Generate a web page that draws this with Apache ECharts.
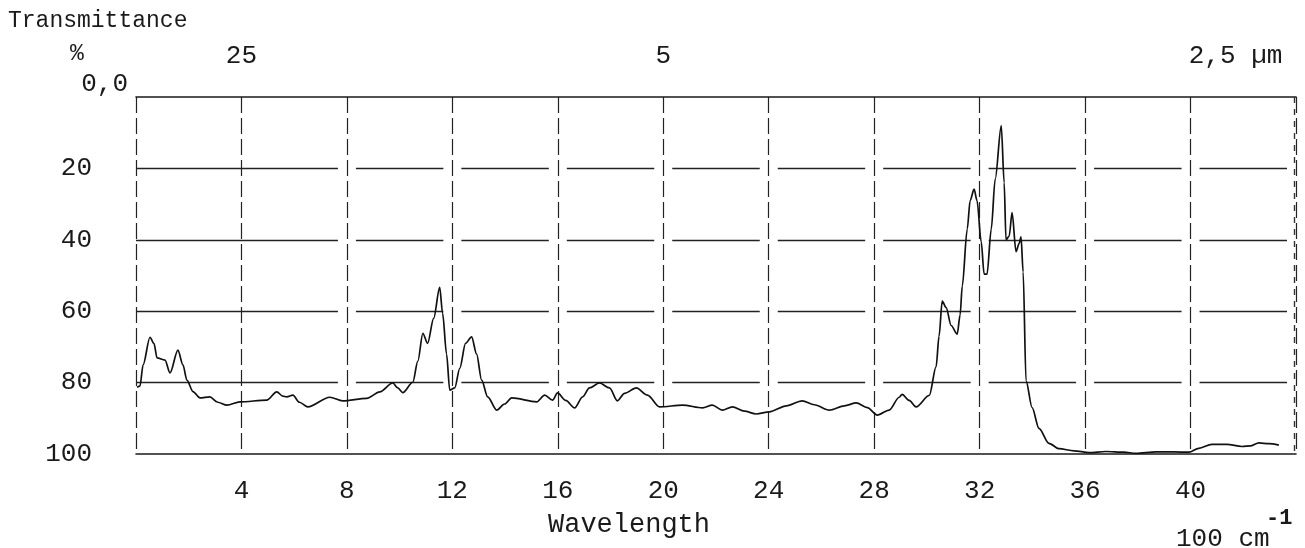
<!DOCTYPE html>
<html>
<head>
<meta charset="utf-8">
<script src="https://cdn.jsdelivr.net/npm/echarts@6/dist/echarts.min.js"></script>
<style>
html,body{margin:0;padding:0;background:#fff;overflow:hidden;}
#chart{width:1305px;height:548px;}
</style>
</head>
<body>
<div id="chart"></div>
<script>
// Wavenumber (100 cm^-1) and transmittance (%)
const wavenumber = [
  0.04, 0.15, 0.27, 0.53, 0.68, 0.8, 1.1, 1.29, 1.59, 1.78, 1.93, 2.16, 2.43, 2.8, 3.1, 3.45, 3.94,
  4.96, 5.34, 5.57, 5.72, 5.95, 6.2, 6.52, 7.35, 7.84, 8.75, 9.25, 9.74, 9.93, 10.12, 10.5, 10.69,
  10.88, 11.06, 11.29, 11.52, 11.63, 11.78, 11.9, 12.09, 12.28, 12.5, 12.73, 12.92, 13.11, 13.34,
  13.68, 13.98, 14.25, 15.2, 15.5, 15.8, 15.99, 16.3, 16.64, 16.94, 17.2, 17.58, 17.96, 18.26,
  18.53, 18.98, 19.4, 19.86, 20.73, 21.49, 21.86, 22.24, 22.62, 23.08, 23.53, 24.02, 24.67, 25.27,
  25.73, 26.3, 26.87, 27.32, 27.74, 28.12, 28.57, 28.95, 29.06, 29.33, 29.59, 30.09, 30.35, 30.46,
  30.58, 30.73, 30.92, 31.15, 31.26, 31.34, 31.53, 31.64, 31.79, 31.9, 32.06, 32.17, 32.28, 32.44,
  32.59, 32.82, 32.93, 33.0, 33.12, 33.23, 33.38, 33.5, 33.57, 33.65, 33.76, 33.99, 34.25, 34.63,
  35.01, 35.58, 36.15, 36.79, 37.47, 37.93, 38.69, 39.37, 39.94, 40.31, 40.81, 41.38, 41.95, 42.29,
  42.59, 42.97, 43.35
];
const transmittance = [
  81.3, 81, 75, 67.3, 69, 73.1, 73.7, 77.3, 70.9, 75, 79.3, 82.5, 84.3, 84, 85.5, 86.3, 85.4,
  84.9, 82.6, 83.8, 84.0, 83.5, 85.5, 86.8, 84.1, 85.1, 84.4, 82.6, 80.1, 81.5, 82.8, 79.9, 74,
  66.2, 69.0, 62, 53.3, 60.6, 72, 82.1, 81.5, 76, 69, 67.2, 72, 79.3, 84,
  87.7, 86, 84.3, 85.4, 83.5, 84.9, 82.9, 85, 87.1, 84, 81.5, 80.1, 81.5, 85.1,
  83, 81.5, 83.5, 86.8, 86.3, 87.1, 86.3, 87.7, 86.8, 88, 88.8, 88.2, 86.5, 85.1,
  86.2, 87.7, 86.5, 85.7, 87, 89.1, 87.7, 84.1, 83.3, 85, 86.8, 83.6, 75.5, 67,
  57.2, 59, 64, 66.4, 61, 53, 37, 29, 25.8, 29, 40.6, 49.6, 49.6, 37,
  23, 8, 24, 40, 39, 32.4, 43.3, 41, 39.2, 49, 79.5, 87, 92.8, 97,
  98.5, 99.1, 99.6, 99.3, 99.5, 99.8, 99.4, 99.4, 99.5, 98.4, 97.3, 97.3, 97.9, 97.7,
  96.9, 97.1, 97.5
];
const xMax = 44;
const rightEdge = 43.95;
const topLabels = {4: '25', 20: '5', 40: '2,5 µm'};

const FONT = '"Liberation Mono", "DejaVu Sans Mono", monospace';
const INK = '#1a1a1a';
const chart = echarts.init(document.getElementById('chart'), null, {renderer: 'canvas', width: 1305, height: 548});

// horizontal grid dash pattern: gaps at the vertical grid lines (except the first interior one)
const gridW = 1305 - 136 - 9;
const cell = gridW / 11;
const hDash = [2 * cell - 9, 18];
for (let i = 0; i < 10; i++) { hDash.push(cell - 18, 18); }

const option = {
  backgroundColor: '#fff',
  animation: false,
  grid: {left: 136, right: 9, top: 97, bottom: 94},
  xAxis: [
    {
      type: 'value', position: 'bottom', min: 0, max: xMax, interval: 4,
      axisLine: {show: true, onZero: false, lineStyle: {color: INK, width: 1.6}},
      axisTick: {show: false},
      axisLabel: {
        margin: 24, color: INK, fontFamily: FONT, fontSize: 26,
        formatter: v => (v === 0 || v === xMax) ? '' : String(v)
      },
      splitLine: {show: true, showMinLine: true, showMaxLine: true,
        lineStyle: {color: '#222', width: 1.2, type: [16, 5]}}
    },
    {
      type: 'value', position: 'top', min: 0, max: xMax, interval: 4,
      axisLine: {show: true, onZero: false, lineStyle: {color: INK, width: 1.6}},
      axisTick: {show: false},
      splitLine: {show: false},
      axisLabel: {
        margin: 28, color: INK, fontFamily: FONT, fontSize: 26,
        formatter: v => v === 40 ? '{u|' + topLabels[v] + '}' : (topLabels[v] || ''),
        rich: {u: {fontFamily: FONT, fontSize: 26, color: INK, padding: [0, 0, 0, 90]}}
      }
    }
  ],
  yAxis: {
    type: 'value', inverse: true, min: 0, max: 100, interval: 20,
    axisLine: {show: false},
    axisTick: {show: false},
    axisLabel: {
      margin: 8, color: INK, fontFamily: FONT, fontSize: 26,
      formatter: v => v === 0 ? '{t|0,0}' : '{n|' + v + '}',
      rich: {
        t: {fontFamily: FONT, fontSize: 26, color: INK, padding: [0, 0, 26, 0]},
        n: {fontFamily: FONT, fontSize: 26, color: INK, padding: [0, 36, 0, 0]}
      }
    },
    splitLine: {show: true, showMinLine: false, showMaxLine: false,
      lineStyle: {color: '#222', width: 1.3, type: hDash}}
  },
  graphic: [
    {type: 'text', left: 8, top: 9, style: {text: 'Transmittance', font: '23px ' + FONT, fill: INK}},
    {type: 'text', left: 70, top: 42, style: {text: '%', font: '23px ' + FONT, fill: INK}},
    {type: 'text', left: 548, top: 511, style: {text: 'Wavelength', font: '27px ' + FONT, fill: INK}},
    {type: 'text', left: 1176, top: 526, style: {text: '100 cm', font: '26px ' + FONT, fill: INK}},
    {type: 'text', left: 1266, top: 507, style: {text: '-1', font: 'bold 22px ' + FONT, fill: INK}}
  ],
  series: [
    {
      type: 'line',
      xAxisIndex: 0,
      yAxisIndex: 0,
      data: wavenumber.map((w, i) => [w, transmittance[i]]),
      showSymbol: false,
      smooth: 0.3,
      smoothMonotone: 'x',
      lineStyle: {color: '#111', width: 1.7},
      markLine: {
        silent: true,
        symbol: ['none', 'none'],
        label: {show: false},
        animation: false,
        lineStyle: {color: '#333', width: 1.4, type: [6, 6]},
        data: [[{coord: [rightEdge, 0]}, {coord: [rightEdge, 100]}]]
      },
      z: 5
    }
  ]
};
chart.setOption(option);
</script>
</body>
</html>
